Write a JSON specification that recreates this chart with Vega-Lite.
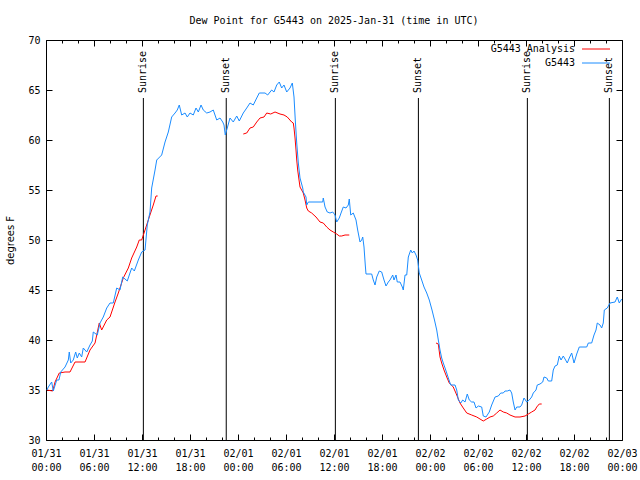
{
  "$schema": "https://vega.github.io/schema/vega-lite/v6.json",
  "width": 576,
  "height": 400,
  "autosize": {"type": "none"},
  "padding": {"left": 46, "top": 40, "right": 18, "bottom": 40},
  "background": "white",
  "config": {
    "view": {"stroke": "black", "strokeWidth": 1},
    "font": "DejaVu Sans Mono",
    "axis": {"domain": false, "grid": false, "tickColor": "black", "labelColor": "black", "labelFont": "DejaVu Sans Mono", "labelFontSize": 10, "titleFont": "DejaVu Sans", "titleFontSize": 10, "titleFontWeight": "normal", "titleColor": "black", "labelFlush": false, "labelOverlap": false}
  },
  "title": {"text": "Dew Point for G5443 on 2025-Jan-31 (time in UTC)", "font": "DejaVu Sans Mono", "fontSize": 10, "fontWeight": "normal", "color": "black", "offset": 9},
  "datasets": {
    "events": [
      {"h": 12.17, "e": "Sunrise"}, {"h": 22.53, "e": "Sunset"},
      {"h": 36.17, "e": "Sunrise"}, {"h": 46.55, "e": "Sunset"},
      {"h": 60.17, "e": "Sunrise"}, {"h": 70.42, "e": "Sunset"}
    ],
    "ana": [
      {"h":0.12,"v":35.0,"g":1},{"h":0.84,"v":34.9,"g":1},{"h":1.13,"v":35.8,"g":1},{"h":1.66,"v":36.7,"g":1},{"h":2.38,"v":36.8,"g":1},{"h":3.0,"v":36.8,"g":1},{"h":3.63,"v":37.8,"g":1},{"h":4.25,"v":37.8,"g":1},{"h":4.88,"v":37.8,"g":1},{"h":5.5,"v":39.0,"g":1},{"h":6.13,"v":39.7,"g":1},{"h":6.66,"v":41.7,"g":1},{"h":6.96,"v":41.0,"g":1},{"h":7.59,"v":42.0,"g":1},{"h":8.0,"v":42.3,"g":1},{"h":8.63,"v":43.8,"g":1},{"h":9.04,"v":44.7,"g":1},{"h":9.66,"v":46.2,"g":1},{"h":10.29,"v":47.2,"g":1},{"h":10.71,"v":48.2,"g":1},{"h":11.34,"v":49.3,"g":1},{"h":11.66,"v":50.0,"g":1},{"h":11.96,"v":50.0,"g":1},{"h":12.38,"v":51.0,"g":1},{"h":12.91,"v":52.3,"g":1},{"h":13.41,"v":53.5,"g":1},{"h":13.75,"v":54.4,"g":1},{"h":13.96,"v":54.4,"g":1},
      {"h":24.66,"v":60.6,"g":2},{"h":25.09,"v":60.7,"g":2},{"h":25.5,"v":61.2,"g":2},{"h":25.91,"v":61.3,"g":2},{"h":26.34,"v":61.8,"g":2},{"h":26.75,"v":62.2,"g":2},{"h":27.25,"v":62.3,"g":2},{"h":27.59,"v":62.7,"g":2},{"h":28.09,"v":62.6,"g":2},{"h":28.63,"v":62.8,"g":2},{"h":29.25,"v":62.6,"g":2},{"h":29.75,"v":62.5,"g":2},{"h":30.16,"v":62.3,"g":2},{"h":30.71,"v":61.8,"g":2},{"h":30.91,"v":61.7,"g":2},{"h":31.0,"v":61.2,"g":2},{"h":31.13,"v":60.2,"g":2},{"h":31.25,"v":59.0,"g":2},{"h":31.34,"v":58.0,"g":2},{"h":31.46,"v":57.0,"g":2},{"h":31.63,"v":56.0,"g":2},{"h":31.75,"v":55.3,"g":2},{"h":32.16,"v":54.7,"g":2},{"h":32.38,"v":54.0,"g":2},{"h":32.59,"v":53.2,"g":2},{"h":32.79,"v":52.9,"g":2},{"h":33.21,"v":52.7,"g":2},{"h":33.75,"v":52.3,"g":2},{"h":34.25,"v":51.8,"g":2},{"h":34.66,"v":51.7,"g":2},{"h":35.09,"v":51.3,"g":2},{"h":35.5,"v":51.0,"g":2},{"h":35.91,"v":50.8,"g":2},{"h":36.34,"v":50.6,"g":2},{"h":36.66,"v":50.4,"g":2},{"h":36.96,"v":50.4,"g":2},{"h":37.38,"v":50.5,"g":2},{"h":37.91,"v":50.5,"g":2},
      {"h":48.75,"v":39.7,"g":3},{"h":49.04,"v":39.6,"g":3},{"h":49.25,"v":38.3,"g":3},{"h":49.46,"v":37.7,"g":3},{"h":49.75,"v":37.0,"g":3},{"h":50.09,"v":36.3,"g":3},{"h":50.41,"v":35.7,"g":3},{"h":50.91,"v":35.3,"g":3},{"h":51.34,"v":34.5,"g":3},{"h":51.75,"v":33.7,"g":3},{"h":52.16,"v":33.2,"g":3},{"h":52.59,"v":32.7,"g":3},{"h":53.21,"v":32.5,"g":3},{"h":53.84,"v":32.3,"g":3},{"h":54.25,"v":32.1,"g":3},{"h":54.66,"v":31.9,"g":3},{"h":55.09,"v":32.1,"g":3},{"h":55.5,"v":32.3,"g":3},{"h":55.91,"v":32.4,"g":3},{"h":56.34,"v":32.7,"g":3},{"h":56.75,"v":33.0,"g":3},{"h":57.16,"v":32.8,"g":3},{"h":57.59,"v":32.7,"g":3},{"h":58.0,"v":32.5,"g":3},{"h":58.63,"v":32.3,"g":3},{"h":59.25,"v":32.3,"g":3},{"h":59.88,"v":32.4,"g":3},{"h":60.29,"v":32.6,"g":3},{"h":60.71,"v":32.8,"g":3},{"h":61.13,"v":33.0,"g":3},{"h":61.34,"v":33.3,"g":3},{"h":61.66,"v":33.6,"g":3},{"h":61.96,"v":33.6,"g":3}
    ],
    "obs": [
      {"h":0.12,"v":35.0},{"h":0.29,"v":35.3},{"h":0.71,"v":35.8},{"h":0.91,"v":34.9},{"h":1.34,"v":36.0},{"h":1.62,"v":36.0},{"h":1.84,"v":36.8},{"h":2.38,"v":37.3},{"h":2.79,"v":38.0},{"h":2.91,"v":38.8},{"h":3.09,"v":37.7},{"h":3.41,"v":38.0},{"h":3.71,"v":38.8},{"h":3.91,"v":38.2},{"h":4.16,"v":38.7},{"h":4.46,"v":38.3},{"h":4.66,"v":39.2},{"h":5.09,"v":38.8},{"h":5.5,"v":39.5},{"h":5.79,"v":39.9},{"h":5.91,"v":40.8},{"h":6.41,"v":40.5},{"h":6.75,"v":41.7},{"h":7.16,"v":42.3},{"h":7.59,"v":43.2},{"h":8.0,"v":43.7},{"h":8.41,"v":43.7},{"h":8.84,"v":45.2},{"h":9.25,"v":45.0},{"h":9.59,"v":46.3},{"h":10.16,"v":45.9},{"h":10.71,"v":47.2},{"h":11.04,"v":46.9},{"h":11.54,"v":48.0},{"h":11.96,"v":48.8},{"h":12.38,"v":49.0},{"h":12.66,"v":51.5},{"h":13.0,"v":52.8},{"h":13.21,"v":55.2},{"h":13.63,"v":57.0},{"h":13.84,"v":58.0},{"h":14.46,"v":58.5},{"h":14.88,"v":59.8},{"h":15.29,"v":60.8},{"h":15.71,"v":62.3},{"h":16.13,"v":62.7},{"h":16.41,"v":63.0},{"h":16.66,"v":63.5},{"h":16.96,"v":62.5},{"h":17.38,"v":62.7},{"h":17.66,"v":62.3},{"h":18.0,"v":62.7},{"h":18.41,"v":62.5},{"h":18.75,"v":63.2},{"h":19.04,"v":62.8},{"h":19.38,"v":63.5},{"h":19.66,"v":63.0},{"h":20.09,"v":62.7},{"h":20.5,"v":62.8},{"h":20.91,"v":63.0},{"h":21.34,"v":62.0},{"h":21.75,"v":62.2},{"h":22.09,"v":61.8},{"h":22.25,"v":61.5},{"h":22.41,"v":60.5},{"h":22.66,"v":61.2},{"h":23.0,"v":62.2},{"h":23.41,"v":61.8},{"h":23.84,"v":62.4},{"h":24.16,"v":61.9},{"h":24.66,"v":62.7},{"h":25.09,"v":63.2},{"h":25.5,"v":63.7},{"h":25.91,"v":63.5},{"h":26.34,"v":64.2},{"h":26.66,"v":64.7},{"h":27.38,"v":64.7},{"h":27.71,"v":64.5},{"h":28.21,"v":65.0},{"h":28.5,"v":64.8},{"h":28.84,"v":65.5},{"h":29.16,"v":65.8},{"h":29.46,"v":65.2},{"h":29.75,"v":65.5},{"h":30.09,"v":64.8},{"h":30.5,"v":65.2},{"h":30.79,"v":65.7},{"h":31.0,"v":64.3},{"h":31.16,"v":62.0},{"h":31.34,"v":59.7},{"h":31.54,"v":57.7},{"h":31.75,"v":56.2},{"h":32.09,"v":55.2},{"h":32.16,"v":54.8},{"h":32.5,"v":54.3},{"h":32.59,"v":53.5},{"h":32.79,"v":53.8},{"h":34.59,"v":53.8},{"h":34.66,"v":54.2},{"h":34.88,"v":53.3},{"h":35.16,"v":52.8},{"h":35.5,"v":52.7},{"h":35.84,"v":52.8},{"h":36.13,"v":52.5},{"h":36.34,"v":51.8},{"h":36.66,"v":52.2},{"h":36.88,"v":52.7},{"h":37.16,"v":53.3},{"h":37.5,"v":53.2},{"h":37.79,"v":53.5},{"h":37.91,"v":54.1},{"h":38.09,"v":52.5},{"h":38.41,"v":52.7},{"h":38.75,"v":52.0},{"h":38.96,"v":51.0},{"h":39.25,"v":49.8},{"h":39.46,"v":50.0},{"h":39.59,"v":50.3},{"h":39.75,"v":49.3},{"h":39.91,"v":47.5},{"h":40.0,"v":46.6},{"h":40.71,"v":46.6},{"h":40.91,"v":46.0},{"h":41.13,"v":45.5},{"h":41.34,"v":46.3},{"h":41.66,"v":46.9},{"h":41.96,"v":46.8},{"h":42.25,"v":46.0},{"h":42.5,"v":45.4},{"h":42.79,"v":45.8},{"h":43.0,"v":46.0},{"h":43.34,"v":46.5},{"h":43.5,"v":46.0},{"h":43.75,"v":46.5},{"h":43.91,"v":45.8},{"h":44.25,"v":45.8},{"h":44.54,"v":45.3},{"h":44.66,"v":45.0},{"h":44.88,"v":46.5},{"h":45.09,"v":46.5},{"h":45.29,"v":48.3},{"h":45.59,"v":49.0},{"h":45.79,"v":48.7},{"h":46.0,"v":48.9},{"h":46.25,"v":48.5},{"h":46.46,"v":48.0},{"h":46.66,"v":46.7},{"h":46.96,"v":46.0},{"h":47.25,"v":45.3},{"h":47.59,"v":44.7},{"h":47.91,"v":44.0},{"h":48.25,"v":43.0},{"h":48.56,"v":42.0},{"h":48.84,"v":41.0},{"h":49.04,"v":40.0},{"h":49.25,"v":39.0},{"h":49.46,"v":38.2},{"h":49.66,"v":37.7},{"h":49.88,"v":37.2},{"h":50.09,"v":36.7},{"h":50.29,"v":36.2},{"h":50.59,"v":35.5},{"h":51.13,"v":35.5},{"h":51.34,"v":35.0},{"h":51.54,"v":34.0},{"h":51.84,"v":33.7},{"h":52.09,"v":34.0},{"h":52.38,"v":33.8},{"h":52.66,"v":34.6},{"h":52.91,"v":34.0},{"h":53.21,"v":33.8},{"h":53.5,"v":33.8},{"h":53.75,"v":33.2},{"h":54.04,"v":33.4},{"h":54.46,"v":33.3},{"h":54.66,"v":32.4},{"h":55.0,"v":32.3},{"h":55.41,"v":32.8},{"h":55.71,"v":33.5},{"h":56.13,"v":34.3},{"h":56.54,"v":34.4},{"h":56.84,"v":34.7},{"h":57.16,"v":34.7},{"h":57.38,"v":34.9},{"h":57.66,"v":34.9},{"h":58.0,"v":35.0},{"h":58.21,"v":34.7},{"h":58.41,"v":33.8},{"h":58.63,"v":33.0},{"h":58.84,"v":33.3},{"h":59.25,"v":33.3},{"h":59.46,"v":33.5},{"h":59.75,"v":34.2},{"h":60.09,"v":33.8},{"h":60.41,"v":34.0},{"h":60.71,"v":34.3},{"h":60.91,"v":34.7},{"h":61.25,"v":35.0},{"h":61.41,"v":35.5},{"h":61.75,"v":35.6},{"h":62.09,"v":35.8},{"h":62.25,"v":36.3},{"h":62.59,"v":36.2},{"h":62.79,"v":35.9},{"h":63.21,"v":35.9},{"h":63.41,"v":37.0},{"h":63.63,"v":37.4},{"h":63.91,"v":37.5},{"h":64.16,"v":38.4},{"h":64.38,"v":38.0},{"h":64.66,"v":38.4},{"h":64.88,"v":38.1},{"h":65.16,"v":37.7},{"h":65.41,"v":38.2},{"h":65.71,"v":38.7},{"h":66.0,"v":37.7},{"h":66.34,"v":38.6},{"h":66.66,"v":39.3},{"h":67.59,"v":39.3},{"h":67.79,"v":39.7},{"h":68.21,"v":39.7},{"h":68.5,"v":40.5},{"h":68.75,"v":41.0},{"h":68.91,"v":41.7},{"h":69.25,"v":41.5},{"h":69.46,"v":41.2},{"h":69.66,"v":41.7},{"h":69.79,"v":43.0},{"h":70.16,"v":43.2},{"h":70.5,"v":43.7},{"h":71.13,"v":43.8},{"h":71.41,"v":44.3},{"h":71.66,"v":43.7},{"h":71.96,"v":44.1}
    ]
  },
  "layer": [
    {
      "data": {"name": "events"},
      "mark": {"type": "rule", "color": "black", "strokeWidth": 1},
      "encoding": {
        "x": {"field": "h", "type": "quantitative", "scale": {"domain": [0, 72], "nice": false, "zero": false},
              "axis": {"orient": "top", "title": null, "labels": false, "values": [0,2,4,6,8,10,12,14,16,18,20,22,24,26,28,30,32,34,36,38,40,42,44,46,48,50,52,54,56,58,60,62,64,66,68,70,72],
                       "tickSize": {"condition": {"test": "datum.value % 6 === 0", "value": -6}, "value": -3}}},
        "y": {"datum": 30, "type": "quantitative", "scale": {"domain": [30, 70], "nice": false, "zero": false},
              "axis": {"orient": "right", "title": null, "labels": false, "values": [30,35,40,45,50,55,60,65,70], "tickSize": -6}},
        "y2": {"datum": 64.2}
      }
    },
    {
      "data": {"name": "ana"},
      "mark": {"type": "line", "strokeWidth": 1},
      "encoding": {
        "x": {"field": "h", "type": "quantitative",
              "axis": {"orient": "bottom", "title": null, "values": [0,2,4,6,8,10,12,14,16,18,20,22,24,26,28,30,32,34,36,38,40,42,44,46,48,50,52,54,56,58,60,62,64,66,68,70,72],
                       "tickSize": {"condition": {"test": "datum.value % 6 === 0", "value": -6}, "value": -3},
                       "labelPadding": 14, "labelBaseline": "top", "labelLineHeight": 14,
                       "labelExpr": "datum.value % 6 === 0 ? [['01/31','02/01','02/02','02/03'][floor(datum.value / 24)], (datum.value % 24 < 10 ? '0' : '') + (datum.value % 24) + ':00'] : ''"}},
        "y": {"field": "v", "type": "quantitative",
              "axis": {"orient": "left", "title": "degrees F", "values": [30,35,40,45,50,55,60,65,70], "tickSize": -6, "labelPadding": 12, "titlePadding": 12}},
        "detail": {"field": "g", "type": "nominal"},
        "color": {"datum": "G5443 Analysis", "type": "nominal",
                  "scale": {"domain": ["G5443 Analysis", "G5443"], "range": ["#ff0000", "#1a8cff"]},
                  "legend": {"orient": "none", "legendX": 545, "legendY": 4, "padding": 0, "title": null, "symbolType": "M-4,0H4", "symbolSize": 49, "symbolStrokeWidth": 1, "symbolFillColor": "transparent",
                             "labelAlign": "right", "labelOffset": -26, "labelFont": "DejaVu Sans Mono", "labelFontSize": 10, "labelColor": "black", "rowPadding": 4}}
      }
    },
    {
      "data": {"name": "obs"},
      "mark": {"type": "line", "strokeWidth": 1},
      "encoding": {
        "x": {"field": "h", "type": "quantitative", "axis": null},
        "y": {"field": "v", "type": "quantitative", "axis": null},
        "color": {"datum": "G5443", "type": "nominal"}
      }
    },
    {
      "data": {"name": "events"},
      "mark": {"type": "text", "angle": 270, "align": "left", "baseline": "middle", "font": "DejaVu Sans Mono", "fontSize": 10, "color": "black"},
      "encoding": {
        "x": {"field": "h", "type": "quantitative", "axis": null},
        "y": {"datum": 64.7, "type": "quantitative", "axis": null},
        "text": {"field": "e"}
      }
    }
  ],
  "resolve": {"axis": {"x": "independent", "y": "independent"}}
}
